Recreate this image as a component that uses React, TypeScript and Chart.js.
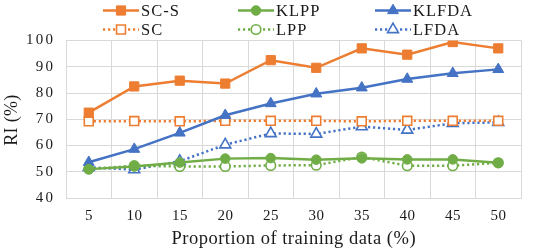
import { useEffect, useRef } from 'react';
import { Chart, registerables } from 'chart.js';
import { drawPoint } from 'chart.js/helpers';

Chart.register(...registerables);

const categories = ['5', '10', '15', '20', '25', '30', '35', '40', '45', '50'];
const scsValues = [72.5, 82.5, 84.7, 83.6, 92.5, 89.6, 97, 94.6, 99.4, 97];
const klppValues = [51, 52, 53.5, 55, 55.2, 54.6, 55.1, 54.7, 54.7, 53.4];
const klfdaValues = [53.6, 58.6, 64.8, 71.5, 76, 79.7, 82, 85.3, 87.5, 89];
const scValues = [69.2, 69.3, 69.2, 69.4, 69.4, 69.4, 69.2, 69.4, 69.4, 69.4];
const lppValues = [51, 52.3, 52, 52, 52.4, 52.5, 55.6, 52.3, 52.3, 53.4];
const lfdaValues = [51.7, 50.8, 54, 60.3, 64.6, 64.4, 67.2, 65.9, 68.5, 68.8];
const yMin = 40;
const yMax = 100;
const yStep = 10;
const xTitle = 'Proportion of training data (%)';
const yTitle = 'RI (%)';

const ORANGE = '#ED7D31';
const GREEN = '#70AD47';
const BLUE = '#4472C4';
const GRID = '#D9D9D9';
const TEXT = '#1a1a1a';
const FONT = '"Liberation Serif", "DejaVu Serif", serif';

function spacedText(ctx: any, text: string, x: number, y: number, spacing: number, align: 'left' | 'right' | 'center') {
  ctx.letterSpacing = `${spacing}px`;
  const w = ctx.measureText(text).width - spacing;
  let sx = x;
  if (align === 'right') sx = x - w;
  else if (align === 'center') sx = x - w / 2;
  ctx.textAlign = 'left';
  ctx.fillText(text, sx, y);
  ctx.letterSpacing = '0px';
}

const textPlugin = {
  id: 'customText',
  afterDraw(chart: any) {
    const ctx = chart.ctx;
    const xs = chart.scales.x;
    const ys = chart.scales.y;
    const area = chart.chartArea;
    ctx.save();
    ctx.fillStyle = TEXT;
    ctx.textBaseline = 'middle';
    // y tick labels
    ctx.font = `15px ${FONT}`;
    ys.ticks.forEach((t: any) => {
      spacedText(ctx, String(t.value), area.left - 13, ys.getPixelForValue(t.value), 2.2, 'right');
    });
    // x tick labels
    chart.data.labels.forEach((lab: string, i: number) => {
      spacedText(ctx, lab, xs.getPixelForValue(i), area.bottom + 18, 0.3, 'center');
    });
    // x title
    ctx.font = `18.5px ${FONT}`;
    ctx.textBaseline = 'alphabetic';
    spacedText(ctx, xTitle, (area.left + area.right) / 2, area.bottom + 46, 0.5, 'center');
    // y title
    ctx.save();
    ctx.translate(17, (area.top + area.bottom) / 2 + 1);
    ctx.rotate(-Math.PI / 2);
    ctx.font = `18px ${FONT}`;
    spacedText(ctx, yTitle, 0, 0, 0.3, 'center');
    ctx.restore();

    // legend
    const datasets = chart.data.datasets;
    const colX = [103, 238, 375];
    const rowY = [10.5, 29.5];
    const lineLen = 36;
    datasets.forEach((ds: any, i: number) => {
      const col = i % 3;
      const row = Math.floor(i / 3);
      const x = colX[col];
      const y = rowY[row];
      ctx.strokeStyle = ds.borderColor;
      ctx.lineWidth = ds.borderWidth;
      ctx.lineCap = 'butt';
      ctx.setLineDash(ds.borderDash || []);
      ctx.beginPath();
      ctx.moveTo(x, y);
      ctx.lineTo(x + lineLen, y);
      ctx.stroke();
      ctx.setLineDash([]);
      ctx.fillStyle = ds.pointBackgroundColor;
      ctx.strokeStyle = ds.pointBorderColor;
      ctx.lineWidth = ds.pointBorderWidth;
      drawPoint(ctx, { pointStyle: ds.pointStyle, radius: ds.pointRadius, rotation: 0, borderWidth: ds.pointBorderWidth }, x + lineLen / 2, y);
      ctx.fillStyle = TEXT;
      ctx.font = `16.5px ${FONT}`;
      ctx.textBaseline = 'middle';
      spacedText(ctx, ds.label, x + lineLen + 2, y + 1, 1, 'left');
    });
    ctx.restore();
  },
};

function makeDataset(label: string, data: number[], color: string, style: string, radius: number, dotted: boolean) {
  return {
    label,
    data,
    borderColor: color,
    backgroundColor: color,
    borderWidth: 2.5,
    borderDash: dotted ? [2.2, 2.8] : [],
    borderCapStyle: 'butt',
    pointStyle: style,
    pointRadius: radius,
    pointBackgroundColor: dotted ? '#FFFFFF' : color,
    pointBorderColor: color,
    pointBorderWidth: dotted ? 1.6 : 1,
    tension: 0,
  };
}

export default function App() {
  const ref = useRef<HTMLCanvasElement>(null);
  useEffect(() => {
    if (!ref.current) return;
    const chart = new Chart(ref.current, {
      type: 'line',
      data: {
        labels: categories,
        datasets: [
          makeDataset('SC-S', scsValues, ORANGE, 'rect', 6.5, false),
          makeDataset('KLPP', klppValues, GREEN, 'circle', 4.8, false),
          makeDataset('KLFDA', klfdaValues, BLUE, 'triangle', 6.3, false),
          makeDataset('SC', scValues, ORANGE, 'rect', 6.3, true),
          makeDataset('LPP', lppValues, GREEN, 'circle', 4.8, true),
          makeDataset('LFDA', lfdaValues, BLUE, 'triangle', 6.3, true),
        ] as any,
      },
      options: {
        animation: false,
        responsive: true,
        maintainAspectRatio: false,
        layout: { padding: { top: 40.5, right: 13, left: 0, bottom: 0 } },
        plugins: { legend: { display: false }, tooltip: { enabled: false } },
        scales: {
          x: {
            type: 'category',
            offset: true,
            grid: { offset: true, color: GRID, lineWidth: 1, drawTicks: false },
            border: { display: true, color: GRID },
            ticks: { display: false },
            title: { display: false },
            afterFit: (scale: any) => { scale.height = 52; },
          },
          y: {
            min: yMin,
            max: yMax,
            grid: { color: GRID, lineWidth: 1, drawTicks: false },
            border: { display: true, color: GRID },
            ticks: { stepSize: yStep, display: false },
            title: { display: false },
            afterFit: (scale: any) => { scale.width = 66; },
          },
        },
      },
      plugins: [textPlugin],
    });
    return () => chart.destroy();
  }, []);
  return (
    <div style={{ position: 'absolute', left: 0, top: 0, width: 534, height: 250 }}>
      <canvas ref={ref} />
    </div>
  );
}
